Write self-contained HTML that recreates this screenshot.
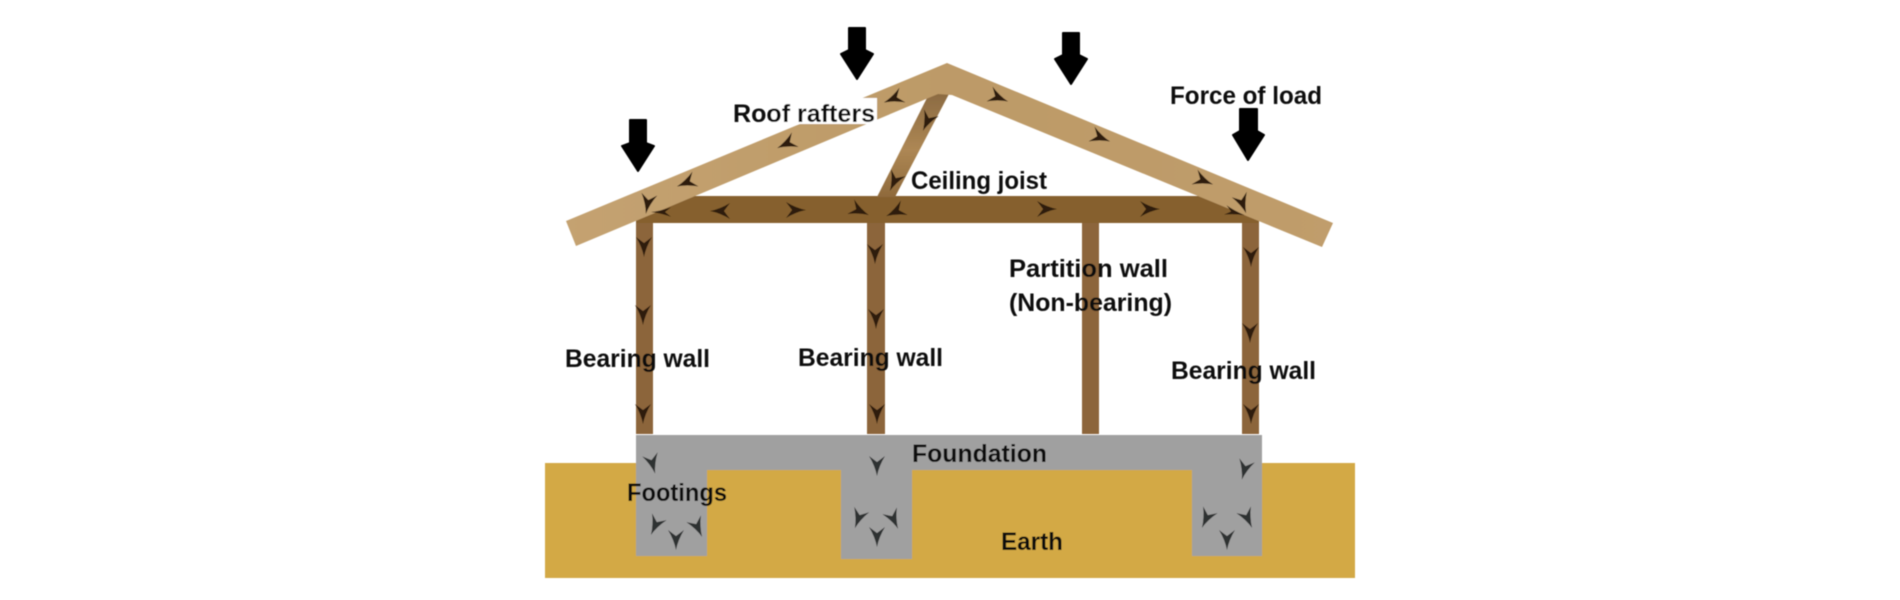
<!DOCTYPE html>
<html>
<head>
<meta charset="utf-8">
<style>
html,body{margin:0;padding:0;background:#fff;width:1900px;height:600px;overflow:hidden}
svg{display:block}
text{font-family:"Liberation Sans",sans-serif;font-weight:bold;font-size:25px;fill:#0c0c0c}
</style>
</head>
<body>
<svg width="1900" height="600" viewBox="0 0 1900 600" xmlns="http://www.w3.org/2000/svg">
<defs>
<path id="c" d="M12 0 Q2 -2 -8 -8 L-2 0 L-8 8 Q2 2 12 0Z"/>
<filter id="b" x="-5%" y="-5%" width="110%" height="110%"><feGaussianBlur stdDeviation="0.6"/></filter>
<linearGradient id="st" x1="0" y1="0" x2="0" y2="1">
<stop offset="0" stop-color="#8b6a42"/><stop offset=".55" stop-color="#ad8754"/><stop offset="1" stop-color="#8f6a3c"/>
</linearGradient>
<linearGradient id="wd" x1="0" y1="0" x2="1" y2="0">
<stop offset="0" stop-color="#c4a271"/><stop offset=".5" stop-color="#bd9a67"/><stop offset="1" stop-color="#c09d6c"/>
</linearGradient>
</defs>
<g filter="url(#b)">
<!-- earth -->
<rect x="545" y="463" width="810" height="115" fill="#d3a945"/>
<!-- foundation -->
<path d="M636 435H1262V556H1192V470H912V559H841V470H707V556H636Z" fill="#a0a0a0"/>
<!-- walls -->
<g fill="#8c653a">
<rect x="636" y="222" width="17" height="212"/>
<rect x="867" y="222" width="18" height="212"/>
<rect x="1082" y="222" width="17" height="212"/>
<rect x="1242" y="222" width="17" height="212"/>
<rect x="636" y="196" width="623" height="27" fill="#86602f"/>
</g>
<polygon points="930,92 950,92 895,197 877,197" fill="url(#st)"/>
<!-- rafters -->
<polygon points="566,221 947,63 1333,223 1322,247 952,95 938,94 576,246" fill="url(#wd)"/>
<!-- white label box -->
<rect x="770" y="98" width="107" height="26" fill="#fff"/>
<!-- chevrons on wood -->
<g fill="#2e1b0b">
<use href="#c" transform="translate(648,202) rotate(100)"/>
<use href="#c" transform="translate(688,182) rotate(158)"/>
<use href="#c" transform="translate(788,143) rotate(155)"/>
<use href="#c" transform="translate(895,98) rotate(158)"/>
<use href="#c" transform="translate(663,212) rotate(180) scale(1,.6)"/>
<use href="#c" transform="translate(722,211) rotate(180)"/>
<use href="#c" transform="translate(794,210)"/>
<use href="#c" transform="translate(858,210) rotate(25)"/>
<use href="#c" transform="translate(897,211) rotate(155)"/>
<use href="#c" transform="translate(928,120) rotate(115)"/>
<use href="#c" transform="translate(895,180) rotate(115)"/>
<use href="#c" transform="translate(644,245) rotate(90)"/>
<use href="#c" transform="translate(875,252) rotate(90)"/>
<use href="#c" transform="translate(997,97) rotate(22)"/>
<use href="#c" transform="translate(1099,137) rotate(22)"/>
<use href="#c" transform="translate(1202,180) rotate(22)"/>
<use href="#c" transform="translate(1242,202) rotate(70)"/>
<use href="#c" transform="translate(1233,212) rotate(15) scale(1,.6)"/>
<use href="#c" transform="translate(1045,209)"/>
<use href="#c" transform="translate(1148,209)"/>
<use href="#c" transform="translate(1251,255) rotate(90)"/>
<use href="#c" transform="translate(643,313) rotate(90)"/>
<use href="#c" transform="translate(643,412) rotate(90)"/>
<use href="#c" transform="translate(876,317) rotate(90)"/>
<use href="#c" transform="translate(877,412) rotate(90)"/>
<use href="#c" transform="translate(1250,331) rotate(90)"/>
<use href="#c" transform="translate(1251,412) rotate(90)"/>
</g>
<!-- chevrons on concrete -->
<g fill="#2f3032">
<use href="#c" transform="translate(652,462) rotate(75)"/>
<use href="#c" transform="translate(877,464) rotate(90)"/>
<use href="#c" transform="translate(656,524) rotate(115)"/>
<use href="#c" transform="translate(676,538) rotate(90)"/>
<use href="#c" transform="translate(697,526) rotate(65)"/>
<use href="#c" transform="translate(859,517) rotate(110)"/>
<use href="#c" transform="translate(877,535) rotate(90)"/>
<use href="#c" transform="translate(893,518) rotate(65)"/>
<use href="#c" transform="translate(1245,468) rotate(105)"/>
<use href="#c" transform="translate(1207,517) rotate(115)"/>
<use href="#c" transform="translate(1227,538) rotate(90)"/>
<use href="#c" transform="translate(1247,517) rotate(65)"/>
</g>
<!-- load arrows -->
<g fill="#000" stroke="#000" stroke-width="2" stroke-linejoin="round">
<polygon points="630,120 646,120 646,143 654,146 638,171 622,146 630,143"/>
<polygon points="849,28 865,28 865,50 873,54 857,79 841,54 849,50"/>
<polygon points="1063,33 1079,33 1079,55 1087,59 1071,84 1055,59 1063,55"/>
<polygon points="1240,109 1257,109 1257,131 1264,135 1248,160 1233,135 1240,131"/>
</g>
<!-- labels -->
<text x="733" y="122" textLength="142" lengthAdjust="spacingAndGlyphs">Roof rafters</text>
<text x="911" y="189" textLength="136" lengthAdjust="spacingAndGlyphs">Ceiling joist</text>
<text x="1170" y="104" textLength="152" lengthAdjust="spacingAndGlyphs">Force of load</text>
<text x="1009" y="277" textLength="159" lengthAdjust="spacingAndGlyphs">Partition wall</text>
<text x="1009" y="311" textLength="163" lengthAdjust="spacingAndGlyphs">(Non-bearing)</text>
<text x="565" y="367" textLength="145" lengthAdjust="spacingAndGlyphs">Bearing wall</text>
<text x="798" y="366" textLength="145" lengthAdjust="spacingAndGlyphs">Bearing wall</text>
<text x="1171" y="379" textLength="145" lengthAdjust="spacingAndGlyphs">Bearing wall</text>
<text x="912" y="462" textLength="135" lengthAdjust="spacingAndGlyphs">Foundation</text>
<text x="627" y="501" textLength="100" lengthAdjust="spacingAndGlyphs">Footings</text>
<text x="1001" y="550" textLength="62" lengthAdjust="spacingAndGlyphs">Earth</text>
</g>
</svg>
</body>
</html>
